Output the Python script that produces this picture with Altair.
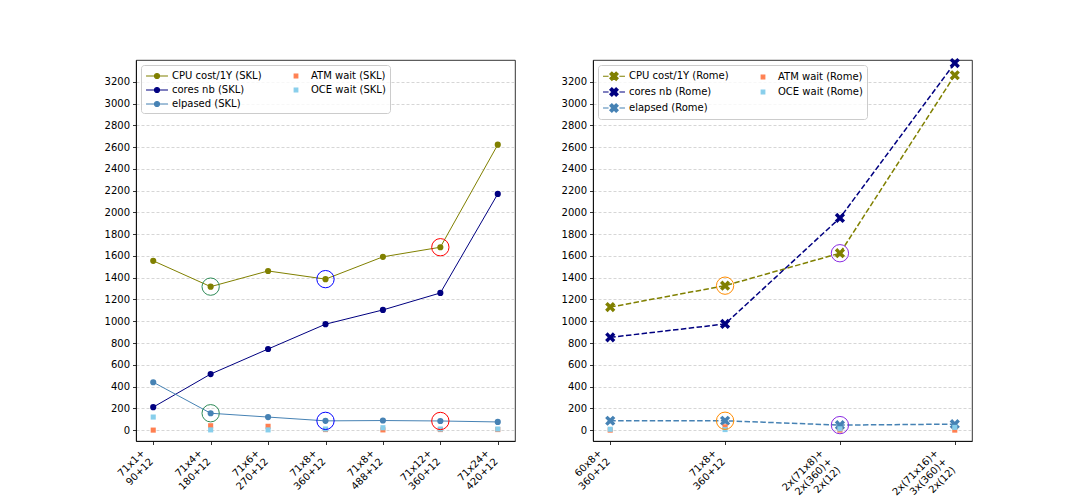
import math
import altair as alt
import pandas as pd

# ---------------- data ----------------
skl_labels = ["71x1+\n90+12", "71x4+\n180+12", "71x6+\n270+12", "71x8+\n360+12",
              "71x8+\n488+12", "71x12+\n360+12", "71x24+\n420+12"]
skl_cpu = [1555, 1318, 1462, 1387, 1592, 1680, 2622]
skl_cores = [211, 515, 745, 973, 1104, 1260, 2170]
skl_elapsed = [440, 155, 120, 85, 88, 84, 75]
skl_atm = [0, 40, 35, 5, 2, 5, 5]
skl_oce = [120, 2, 2, 10, 22, 10, 10]
skl_names = ["CPU cost/1Y (SKL)", "cores nb (SKL)", "elpased (SKL)", "ATM wait (SKL)", "OCE wait (SKL)"]
skl_highlight_idx = [1, 3, 5]
skl_highlight_colors = ["seagreen", "blue", "red"]

rome_labels = ["60x8+\n360+12", "71x8+\n360+12", "2x(71x8)+\n2x(360)+\n2x(12)",
               "2x(71x16)+\n3x(360)+\n2x(12)"]
rome_cpu = [1130, 1327, 1625, 3260]
rome_cores = [852, 975, 1949, 3372]
rome_elapsed = [86, 86, 46, 55]
rome_atm = [0, 30, 0, 0]
rome_oce = [8, 5, 12, 25]
rome_names = ["CPU cost/1Y (Rome)", "cores nb (Rome)", "elapsed (Rome)", "ATM wait (Rome)", "OCE wait (Rome)"]
rome_highlight_idx = [1, 2]
rome_highlight_colors = ["darkorange", "blueviolet"]

series_colors = ["olive", "navy", "steelblue", "coral", "skyblue"]

FONT = "DejaVu Sans"


# ---------------- symbol paths (style) ----------------
def x_poly(scale=1.0, t=0.32):
    pts = [(-t, -1), (t, -1), (t, -t), (1, -t), (1, t), (t, t), (t, 1), (-t, 1),
           (-t, t), (-1, t), (-1, -t), (-t, -t)]
    c = math.cos(math.pi / 4)
    rot = [((x - y) * c * scale, (x + y) * c * scale) for x, y in pts]
    return "M" + "L".join(f"{x:.3f},{y:.3f}" for x, y in rot) + "Z"


def circ(r):
    return f"M{-r},0A{r},{r},0,1,1,{r},0A{r},{r},0,1,1,{-r},0Z"


EXTENT = "M-1.83,0L-1.83,0M1.83,0L1.83,0"
LEG_LINE_CIRCLE = "M-1.83,0H1.83" + circ(0.42)
LEG_DASH_X = "M-1.83,0H-0.9M0.9,0H1.83" + x_poly(0.74)
LEG_SQUARE = EXTENT + "M-0.3,-0.3H0.3V0.3H-0.3Z"
X_MARK = x_poly(1.0)


def panel(labels, values, waits, names, hi_idx, hi_colors, dashed, pad, offsets):
    line_rows = []
    for name, vals in zip(names[:3], values):
        for lab, v in zip(labels, vals):
            line_rows.append({"cat": lab, "value": v, "series": name})
    line_df = pd.DataFrame(line_rows)
    wait_rows = []
    for name, vals in zip(names[3:], waits):
        for lab, v in zip(labels, vals):
            wait_rows.append({"cat": lab, "value": v, "series": name})
    wait_df = pd.DataFrame(wait_rows)

    legend_order = list(names)
    order_colors = list(series_colors)
    line_shape = LEG_DASH_X if dashed else LEG_LINE_CIRCLE
    legend_shapes = [line_shape, line_shape, line_shape, LEG_SQUARE, LEG_SQUARE]

    color_scale = alt.Scale(domain=legend_order, range=order_colors)

    if len(offsets) == 1:
        label_offset = offsets[0]
    else:
        label_offset = {"condition": {"test": "indexof(datum.value, '2x') == 0", "value": offsets[1]},
                        "value": offsets[0]}

    x_enc = alt.X("cat:N", sort=labels, title=None,
                  scale=alt.Scale(type="point", padding=pad),
                  axis=alt.Axis(labelExpr="split(datum.label, '\\n')", labelAngle=315,
                                labelAlign="right", labelBaseline="top", labelLineHeight=12,
                                labelOffset=label_offset, labelPadding=3, tickSize=3.5,
                                labelOverlap=False, labelBound=False, labelFlush=False,
                                grid=False))
    y_enc = alt.Y("value:Q", title=None,
                  scale=alt.Scale(domain=[-100, 3400], nice=False, zero=False),
                  axis=alt.Axis(values=list(range(0, 3201, 200)), format="d", grid=True,
                                tickSize=3.5, labelPadding=3, gridDash=[3, 2],
                                gridColor="#cccccc", gridWidth=0.8))

    base_line = alt.Chart(line_df)
    if dashed:
        lines = base_line.mark_line(strokeWidth=1.5, strokeDash=[5.5, 2.4])
        pts = base_line.mark_point(shape=X_MARK, size=120, filled=True, opacity=1, strokeWidth=0)
    else:
        lines = base_line.mark_line(strokeWidth=1)
        pts = base_line.mark_point(shape="circle", size=38, filled=True, opacity=1, strokeWidth=0)
    lines = lines.encode(x=x_enc, y=y_enc, color=alt.Color("series:N", scale=color_scale, legend=None))
    pts = pts.encode(x=x_enc, y=y_enc, color=alt.Color("series:N", scale=color_scale, legend=None))

    waits_layer = alt.Chart(wait_df).mark_point(shape="square", size=26, filled=True, opacity=1,
                                                strokeWidth=0).encode(
        x=x_enc, y=y_enc, color=alt.Color("series:N", scale=color_scale, legend=None))

    all_df = pd.concat([line_df, wait_df])
    leg = alt.Chart(all_df).mark_point(filled=True, opacity=1, size=0).encode(
        x=x_enc, y=y_enc,
        fill=alt.Fill("series:N", scale=alt.Scale(domain=legend_order, range=order_colors),
                      title=None, legend=alt.Legend(orient="top-left")),
        stroke=alt.Stroke("series:N", scale=alt.Scale(domain=legend_order, range=order_colors),
                          title=None, legend=alt.Legend(orient="top-left")),
        shape=alt.Shape("series:N", scale=alt.Scale(domain=legend_order, range=legend_shapes),
                        title=None, legend=alt.Legend(orient="top-left")),
    )

    layers = [leg, lines, pts, waits_layer]

    for i, c in zip(hi_idx, hi_colors):
        hdf = pd.DataFrame({"cat": [labels[i], labels[i]],
                            "value": [values[0][i], values[2][i]]})
        layers.append(alt.Chart(hdf).mark_point(shape="circle", size=300, filled=False,
                                                color=c, opacity=1, strokeWidth=1)
                      .encode(x=x_enc, y=y_enc))

    return alt.layer(*layers).properties(width=379, height=381)


left = panel(skl_labels, [skl_cpu, skl_cores, skl_elapsed], [skl_atm, skl_oce], skl_names,
             skl_highlight_idx, skl_highlight_colors, False, 0.3, [-14])
right = panel(rome_labels, [rome_cpu, rome_cores, rome_elapsed], [rome_atm, rome_oce], rome_names,
              rome_highlight_idx, rome_highlight_colors, True, 0.15, [-14, -22])

chart = alt.hconcat(left, right, spacing=44).resolve_scale(
    color="independent", fill="independent", stroke="independent", shape="independent",
    x="independent", y="independent",
).resolve_legend(
    fill="independent", stroke="independent", shape="independent",
).properties(
    padding={"left": 95, "top": 49, "right": 5, "bottom": 5},
    background="white",
).configure_axis(
    labelFont=FONT, labelFontSize=10, labelColor="black",
    domainColor="black", domainWidth=0.8, tickColor="black", tickWidth=0.8,
).configure_view(
    stroke="black", strokeWidth=0.8
).configure_legend(
    offset=5, columns=2, columnPadding=20, rowPadding=2, symbolSize=144,
    symbolStrokeWidth=1.2, symbolOffset=5, labelOffset=8, labelFont=FONT,
    labelFontSize=10, labelColor="black", padding=4, strokeColor="#cccccc",
    fillColor="rgba(255,255,255,0.8)", cornerRadius=3
)

chart.save("out.html", embed_options={"renderer": "svg", "actions": False})
